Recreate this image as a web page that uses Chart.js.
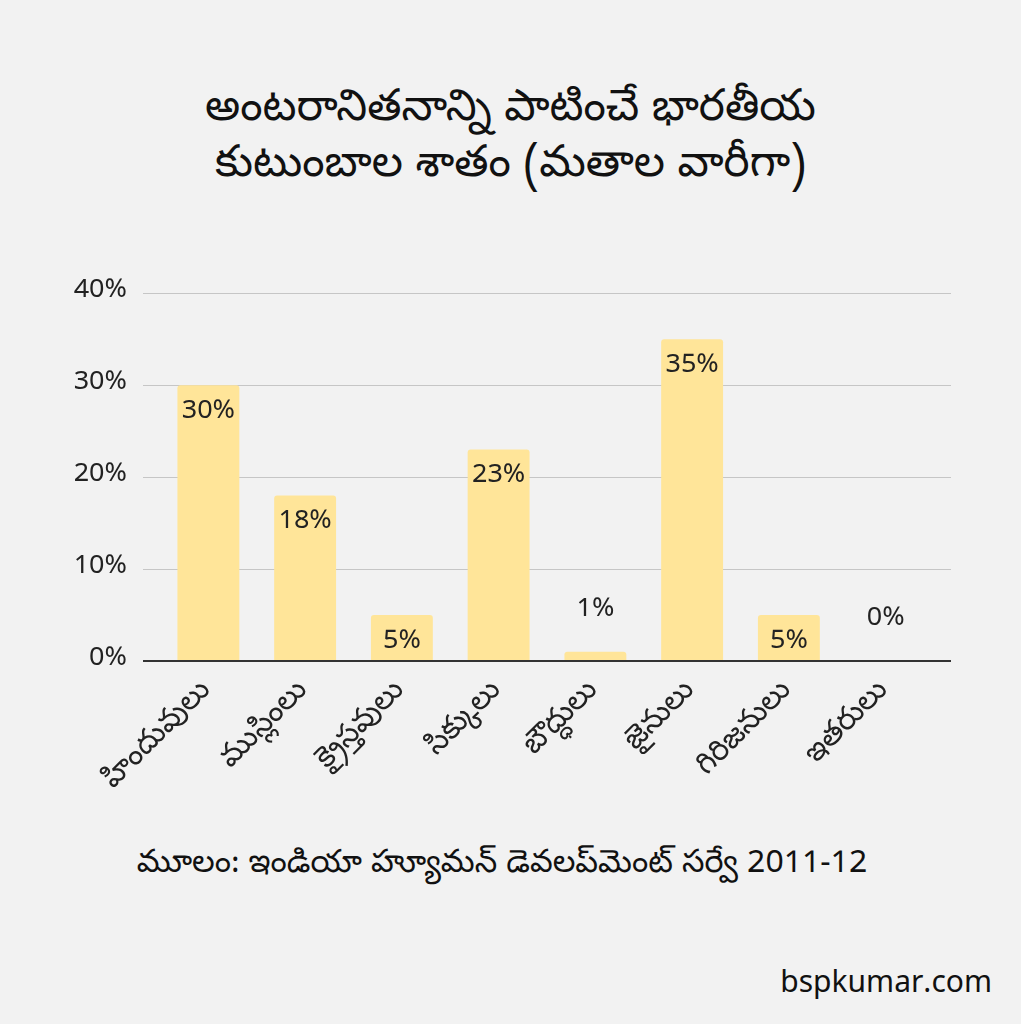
<!DOCTYPE html>
<html>
<head>
<meta charset="utf-8">
<script src="https://cdn.jsdelivr.net/npm/chart.js@4"></script>
<style>
  html, body { margin: 0; padding: 0; background: #f2f2f2; }
  body { width: 1021px; height: 1024px; position: relative; overflow: hidden;
         font-family: "Noto Sans Telugu", Roboto, "Liberation Sans", sans-serif; color: #111; }
  #title { position: absolute; left: 0; width: 1021px; top: 84px; text-align: center;
           font-size: 44px; line-height: 56px; }
  #source { position: absolute; left: 0; width: 1004px; top: 844px; text-align: center; font-size: 32px; }
  #site { position: absolute; right: 29px; top: 966px; font-size: 30px; }
  #wrap { position: absolute; left: 0; top: 244px; width: 1021px; height: 586px; }
</style>
</head>
<body>
<div id="title">అంటరానితనాన్ని పాటించే భారతీయ<br>కుటుంబాల శాతం (మతాల వారీగా)</div>
<div id="wrap"><canvas id="chart"></canvas></div>
<div id="source">మూలం: ఇండియా హ్యూమన్ డెవలప్‌మెంట్ సర్వే 2011-12</div>
<div id="site">bspkumar.com</div>
<script>
const religions = ['హిందువులు', 'ముస్లింలు', 'క్రైస్తవులు', 'సిక్కులు', 'బౌద్ధులు', 'జైనులు', 'గిరిజనులు', 'ఇతరులు'];
const sharePct = [30, 18, 5, 23, 1, 35, 5, 0];
const yTicks = [0, 10, 20, 30, 40];

const fontFamily = '"Noto Sans Telugu", Roboto, "Liberation Sans", sans-serif';

// grid lines run a bit wider than the bars' area
const gridPlugin = {
    id: 'wideGrid',
    beforeDatasetsDraw(chart) {
        const { ctx, chartArea } = chart;
        const y = chart.scales.y;
        ctx.save();
        yTicks.forEach(v => {
            const py = Math.round(y.getPixelForValue(v)) + 0.5;
            ctx.beginPath();
            ctx.moveTo(chartArea.left - 17, py);
            ctx.lineTo(chartArea.right + 17, py);
            ctx.lineWidth = 1;
            ctx.strokeStyle = '#c6c6c6';
            ctx.stroke();
        });
        ctx.restore();
    },
    afterDatasetsDraw(chart) {
        const { ctx } = chart;
        const y = chart.scales.y;
        // zero line drawn over the bars
        const py = Math.round(y.getPixelForValue(0));
        ctx.save();
        ctx.beginPath();
        ctx.moveTo(chart.chartArea.left - 17, py);
        ctx.lineTo(chart.chartArea.right + 17, py);
        ctx.lineWidth = 2;
        ctx.strokeStyle = '#333333';
        ctx.stroke();
        // value labels: inside the bar top, or above it when the bar is too short
        const meta = chart.getDatasetMeta(0);
        ctx.font = '27px ' + fontFamily;
        ctx.fillStyle = '#222222';
        ctx.textAlign = 'center';
        ctx.textBaseline = 'middle';
        meta.data.forEach((bar, i) => {
            const v = sharePct[i];
            const ly = v >= 3 ? bar.y + 29 : bar.y - 40;
            ctx.fillText(v + '%', bar.x, ly);
        });
        ctx.restore();
    }
};

new Chart(document.getElementById('chart'), {
    type: 'bar',
    data: {
        labels: religions,
        datasets: [{
            data: sharePct,
            backgroundColor: '#ffe599',
            borderRadius: 3,
            borderSkipped: 'bottom',
            categoryPercentage: 1,
            barPercentage: 0.64
        }]
    },
    options: {
        responsive: true,
        maintainAspectRatio: false,
        animation: false,
        layout: { padding: { top: 18, right: 87, left: 0, bottom: 0 } },
        plugins: { legend: { display: false }, tooltip: { enabled: false } },
        scales: {
            x: {
                grid: { display: false },
                border: { display: false },
                ticks: {
                    color: '#222222',
                    font: { size: 30, family: fontFamily },
                    maxRotation: 45, minRotation: 45,
                    padding: 6
                },
                afterFit(scale) { scale.height = 169; }
            },
            y: {
                min: 0, max: 40,
                grid: { display: false, drawTicks: false },
                border: { display: false },
                ticks: {
                    stepSize: 10,
                    color: '#222222',
                    font: { size: 27, family: fontFamily },
                    padding: 33,
                    callback: v => v + '%'
                },
                afterFit(scale) { scale.width = 160; }
            }
        }
    },
    plugins: [gridPlugin]
});
</script>
</body>
</html>
